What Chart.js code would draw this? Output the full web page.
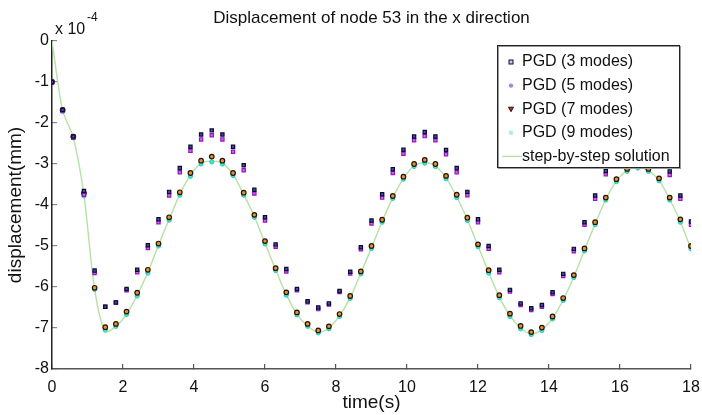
<!DOCTYPE html>
<html>
<head>
<meta charset="utf-8">
<title>Displacement of node 53</title>
<script src="https://cdn.jsdelivr.net/npm/chart.js@4.4.1/dist/chart.umd.min.js"></script>
<style>
  html, body { margin: 0; padding: 0; background: #fff; }
  #wrap { position: relative; width: 702px; height: 415px; }
</style>
</head>
<body>
<div id="wrap"><canvas id="dispChart"></canvas></div>
<script>
// ── Data (displacement in units of 1e-4 mm) ─────────────────
const timeS = [
  0, 0.3, 0.6, 0.9, 1.2, 1.5, 1.8, 2.1, 2.4, 2.7,
  3.0, 3.3, 3.6, 3.9, 4.2, 4.5, 4.8, 5.1, 5.4, 5.7,
  6.0, 6.3, 6.6, 6.9, 7.2, 7.5, 7.8, 8.1, 8.4, 8.7,
  9.0, 9.3, 9.6, 9.9, 10.2, 10.5, 10.8, 11.1, 11.4, 11.7,
  12.0, 12.3, 12.6, 12.9, 13.2, 13.5, 13.8, 14.1, 14.4, 14.7,
  15.0, 15.3, 15.6, 15.9, 16.2, 16.5, 16.8, 17.1, 17.4, 17.7,
  18.0
];

const pgd3 = [
  -1.0, -1.68, -2.33, -3.66, -5.6, -6.48, -6.38, -6.05, -5.58, -4.98,
  -4.35, -3.68, -3.1, -2.58, -2.28, -2.18, -2.28, -2.58, -3.03, -3.63,
  -4.3, -4.96, -5.56, -6.05, -6.35, -6.5, -6.4, -6.1, -5.63, -5.03,
  -4.38, -3.74, -3.13, -2.65, -2.33, -2.22, -2.33, -2.66, -3.1, -3.68,
  -4.35, -5.0, -5.58, -6.07, -6.4, -6.52, -6.44, -6.13, -5.68, -5.07,
  -4.42, -3.77, -3.17, -2.7, -2.42, -2.3, -2.42, -2.7, -3.18, -3.77,
  -4.4
];

const pgd5 = [
  -1.0, -1.7, -2.36, -3.75, -5.66, -6.48, -6.38, -6.08, -5.64, -5.05,
  -4.42, -3.77, -3.2, -2.68, -2.4, -2.3, -2.4, -2.7, -3.15, -3.72,
  -4.38, -5.02, -5.62, -6.08, -6.37, -6.54, -6.43, -6.12, -5.67, -5.08,
  -4.45, -3.82, -3.22, -2.75, -2.42, -2.32, -2.42, -2.76, -3.2, -3.76,
  -4.42, -5.07, -5.64, -6.11, -6.44, -6.56, -6.48, -6.17, -5.73, -5.13,
  -4.48, -3.85, -3.25, -2.8, -2.5, -2.4, -2.5, -2.8, -3.27, -3.85,
  -4.48
];

const pgd7 = [
  -1.0, -1.68, -2.33, -3.71, -6.02, -6.98, -6.9, -6.6, -6.14, -5.58,
  -4.94, -4.3, -3.69, -3.22, -2.92, -2.82, -2.92, -3.22, -3.7, -4.24,
  -4.88, -5.54, -6.13, -6.62, -6.9, -7.06, -6.96, -6.66, -6.22, -5.62,
  -5.0, -4.36, -3.78, -3.31, -3.0, -2.9, -3.0, -3.29, -3.75, -4.31,
  -4.96, -5.59, -6.2, -6.65, -6.95, -7.1, -6.99, -6.72, -6.27, -5.71,
  -5.06, -4.42, -3.82, -3.37, -3.12, -3.02, -3.12, -3.35, -3.82, -4.35,
  -5.0
];

const pgd9 = [
  -1.0, -1.72, -2.36, -3.78, -6.06, -7.05, -6.96, -6.67, -6.22, -5.66,
  -5.0, -4.37, -3.76, -3.3, -3.0, -2.95, -3.0, -3.28, -3.76, -4.3,
  -4.95, -5.6, -6.2, -6.68, -6.96, -7.12, -7.02, -6.72, -6.28, -5.68,
  -5.06, -4.42, -3.84, -3.37, -3.06, -2.98, -3.06, -3.36, -3.82, -4.38,
  -5.02, -5.66, -6.26, -6.72, -7.02, -7.16, -7.06, -6.78, -6.33, -5.77,
  -5.12, -4.48, -3.88, -3.43, -3.18, -3.1, -3.18, -3.41, -3.88, -4.42,
  -5.07
];

const stepSolution = [
  0, -1.7, -2.35, -3.76, -6.05, -7.08, -6.96, -6.66, -6.2, -5.64,
  -4.98, -4.35, -3.74, -3.27, -2.98, -2.93, -2.98, -3.26, -3.74, -4.28,
  -4.93, -5.58, -6.18, -6.66, -6.95, -7.1, -7.0, -6.7, -6.26, -5.66,
  -5.04, -4.4, -3.82, -3.35, -3.05, -2.96, -3.05, -3.34, -3.8, -4.36,
  -5.0, -5.64, -6.24, -6.7, -7.0, -7.14, -7.04, -6.76, -6.31, -5.75,
  -5.1, -4.46, -3.86, -3.41, -3.16, -3.08, -3.16, -3.4, -3.86, -4.4,
  -5.08
];

const seriesNames = ['PGD (3 modes)', 'PGD (5 modes)', 'PGD (7 modes)', 'PGD (9 modes)', 'step-by-step solution'];
const xTickStep = 2;
const yTickStep = 1;

const FONT = "'Liberation Sans', Arial, sans-serif";

function toPoints(ys) {
  return timeS.map((t, i) => ({ x: t, y: ys[i] }));
}

// ── Overlay: title, exponent, MATLAB-ish legend box ─────────
const overlayPlugin = {
  id: 'overlay',
  afterDatasetsDraw(chart) {
    const ctx = chart.ctx;
    const area = chart.chartArea;
    ctx.save();

    // title
    ctx.fillStyle = '#111';
    ctx.font = '17px ' + FONT;
    ctx.textAlign = 'center';
    ctx.textBaseline = 'middle';
    ctx.fillText('Displacement of node 53 in the x direction', (area.left + area.right) / 2, 18);

    // exponent label
    ctx.textAlign = 'left';
    ctx.textBaseline = 'alphabetic';
    ctx.font = '16px ' + FONT;
    ctx.fillText('x 10', area.left + 3, 34);
    ctx.font = '12px ' + FONT;
    ctx.fillText('-4', area.left + 35, 21);

    // legend
    const bw = 182, bh = 122;
    const bx = area.right - 12 - bw;
    const by = area.top + 4;
    ctx.fillStyle = '#fff';
    ctx.fillRect(bx, by, bw, bh);
    ctx.strokeStyle = '#999';
    ctx.lineWidth = 1;
    ctx.strokeRect(bx + 1.5, by + 1.5, bw, bh);
    ctx.strokeStyle = '#222';
    ctx.strokeRect(bx + 0.5, by + 0.5, bw, bh);

    const rowH = 23.6;
    ctx.font = '16px ' + FONT;
    ctx.textBaseline = 'middle';
    ctx.fillStyle = '#111';
    chart.data.datasets.forEach((ds, i) => {
      const cy = by + 17 + i * rowH;
      const mx = bx + 14;
      if (i < 4) {
        ctx.save();
        ctx.fillStyle = ds.legendFill;
        ctx.strokeStyle = ds.borderColor;
        ctx.lineWidth = 1;
        if (i === 0) {
          ctx.fillRect(mx - 2, cy - 2, 4, 4);
          ctx.strokeRect(mx - 2, cy - 2, 4, 4);
        } else if (i === 2) {
          ctx.beginPath();
          ctx.moveTo(mx - 2.5, cy - 2);
          ctx.lineTo(mx + 2.5, cy - 2);
          ctx.lineTo(mx, cy + 2.5);
          ctx.closePath();
          ctx.fill();
          ctx.stroke();
        } else {
          ctx.beginPath();
          ctx.arc(mx, cy, 2.2, 0, Math.PI * 2);
          ctx.fill();
        }
        ctx.restore();
        ctx.fillText(ds.label, bx + 25, cy);
      } else {
        ctx.save();
        ctx.strokeStyle = ds.borderColor;
        ctx.lineWidth = 1.3;
        ctx.beginPath();
        ctx.moveTo(bx + 5, cy);
        ctx.lineTo(bx + 25, cy);
        ctx.stroke();
        ctx.restore();
        ctx.fillText(ds.label, bx + 25, cy);
      }
    });
    ctx.restore();
  }
};

// ── Chart ───────────────────────────────────────────────────
const ctx = document.getElementById('dispChart').getContext('2d');
new Chart(ctx, {
  type: 'scatter',
  data: {
    datasets: [
      {
        label: seriesNames[0],
        data: toPoints(pgd3),
        pointStyle: 'rect',
        pointRadius: 2.3,
        backgroundColor: '#4a4ab0',
        borderColor: '#0c0c30',
        legendFill: '#c8c8ee',
        borderWidth: 1.2,
        order: 1
      },
      {
        label: seriesNames[1],
        data: toPoints(pgd5),
        pointStyle: 'rect',
        pointRadius: 2.3,
        backgroundColor: '#e060f0',
        borderColor: '#9018c0',
        legendFill: '#b080e0',
        borderWidth: 1.2,
        order: 2
      },
      {
        label: seriesNames[2],
        data: toPoints(pgd7),
        pointStyle: 'circle',
        pointRadius: 2.3,
        backgroundColor: '#d89a30',
        borderColor: '#2a1008',
        legendFill: '#c03030',
        borderWidth: 1.2,
        order: 3
      },
      {
        label: seriesNames[3],
        data: toPoints(pgd9),
        pointStyle: 'circle',
        pointRadius: 2.1,
        backgroundColor: '#40e6d0',
        borderColor: '#28c8b8',
        legendFill: '#a8f0f0',
        borderWidth: 1,
        order: 4
      },
      {
        label: seriesNames[4],
        data: toPoints(stepSolution),
        type: 'line',
        showLine: true,
        pointRadius: 0,
        borderColor: '#b4e2a4',
        borderWidth: 1.4,
        fill: false,
        tension: 0.3,
        order: 5
      }
    ]
  },
  options: {
    responsive: true,
    maintainAspectRatio: false,
    animation: false,
    devicePixelRatio: 1,
    layout: { padding: { top: 41, right: 11, left: 0, bottom: 0 } },
    plugins: {
      legend: { display: false },
      title: { display: false },
      tooltip: { enabled: false }
    },
    scales: {
      x: {
        type: 'linear',
        min: 0,
        max: 18,
        ticks: {
          stepSize: xTickStep,
          padding: 14,
          color: '#111',
          font: { family: FONT, size: 16 },
          maxRotation: 0
        },
        grid: { drawOnChartArea: false, drawTicks: true, tickLength: -5, color: '#555', lineWidth: 1.2 },
        border: { display: true, color: '#555', width: 1.5 },
        title: {
          display: true,
          text: 'time(s)',
          color: '#111',
          font: { family: FONT, size: 19 },
          padding: { top: 0, bottom: 1 }
        },
        afterFit(scale) {
          scale.height = 46;
          scale.paddingLeft = 0;
          scale.paddingRight = 0;
        }
      },
      y: {
        type: 'linear',
        min: -8,
        max: 0,
        ticks: {
          stepSize: yTickStep,
          padding: 8,
          color: '#111',
          font: { family: FONT, size: 16 }
        },
        grid: { drawOnChartArea: false, drawTicks: true, tickLength: -5, color: '#888', lineWidth: 1.2 },
        border: { display: true, color: '#222', width: 1.5 },
        title: {
          display: true,
          text: 'displacement(mm)',
          color: '#111',
          font: { family: FONT, size: 19 },
          padding: { top: 4, bottom: 0 }
        },
        afterFit(scale) {
          scale.width = 52;
          scale.paddingTop = 0;
          scale.paddingBottom = 0;
        }
      }
    }
  },
  plugins: [overlayPlugin]
});
</script>
</body>
</html>
